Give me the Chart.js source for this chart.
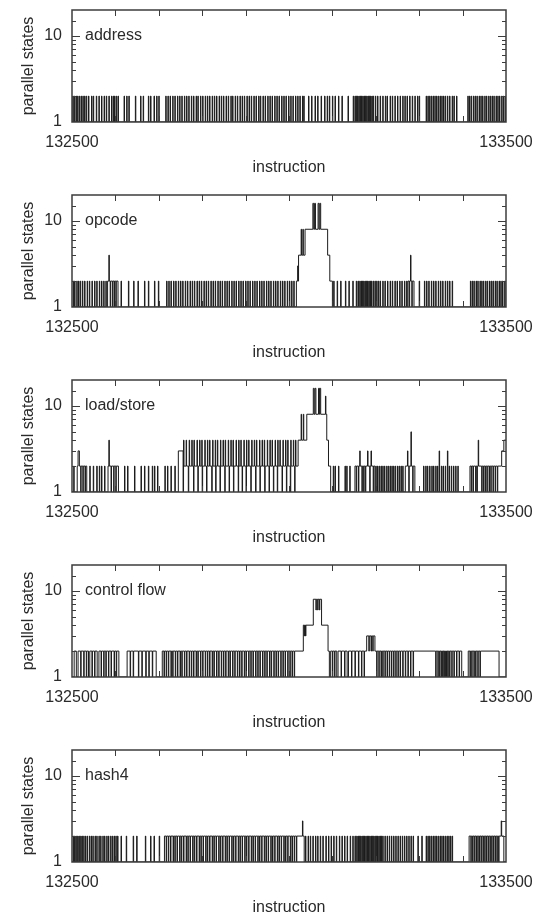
<!DOCTYPE html>
<html>
<head>
<meta charset="utf-8">
<script src="https://cdn.jsdelivr.net/npm/chart.js@4"></script>
<style>
  body{margin:0;background:#fff;}
  .panel{position:absolute;left:0;width:542px;height:185px;}
</style>
</head>
<body>
<div id="wrap"></div>
<script>
// axis setup
const xStart = 132500;
const xEnd = 133500;
const yTickLabels = [1, 10];
const panelNames = ["address", "opcode", "load/store", "control flow", "hash4"];

// each series: base levels [offset, value], 1-instruction pulses, wider peaks [offset, value, width]
const addressBase = [[0,1]];
const addressUp = [2,6,10,13,17,21,25,29,33, 38,45,49,56,62,68,74,79,85,91,95,98,102,106,
  120,126,131,146,158,164,176,181,189,195,200,
  216,221,226,232,237,243,248,253,259,264,269,275,280,286,290,296,301,307,312,317,323,328,333,339,344,349,355,360,366,370,376,381,387,392,397,403,408,413,419,424,430,434,440,445,451,456,461,467,472,477,483,488,493,499,504,509,515,520,525,531,534,
  545,552,560,566,574,582,588,593,600,606,614,622,636,648,
  652,655,658,661,664,667,670,673,676,679,682,685,688,691,694,
  699,704,710,716,722,726,733,738,744,750,756,762,767,772,778,784,790,796,800,
  816,820,824,828,832,836,840,844,848,852,856,860,865,870,876,880,886,
  912,916,920,925,929,933,938,942,946,951,955,960,964,968,972,977,981,985,990,994,998];
const addressDown = [];
const addressPeaks = [];

const opcodeBase = [[0,1],[82,2],[106,1],[517,2],[522,4],[537,8],[589,4],[594,2],[600,1],[774,2],[788,1]];
const opcodeUp = [3,6,11,15,19,24,29,35,40,46,52,57,63,68,73,78,
  113,130,142,152,167,176,190,199,
  218,223,228,234,239,245,250,255,261,266,272,277,282,288,293,298,304,309,314,320,325,330,336,341,346,352,357,362,368,373,378,384,389,394,400,405,410,416,421,426,432,437,442,448,453,458,464,469,474,480,485,490,496,501,506,511,
  603,611,619,630,638,647,
  655,659,663,666,669,672,675,678,681,684,687,690,694,698,702,706,710,
  716,721,727,733,738,744,749,755,760,766,771,800,
  812,817,822,828,833,838,844,849,854,860,865,870,876,
  918,922,926,931,935,940,944,948,953,957,962,966,970,975,979,984,988,992,997];
const opcodeDown = [88,93,97,101,777,783];
const opcodePeaks = [[85,4,1],[780,4,1],[520,3,1],[528,8,1],[532,8,1],[555,16,2],[559,16,2],[567,16,2],[571,16,2],[597,2,1]];

const loadBase = [[0,1],[12,2],[34,1],[83,2],[107,1],[245,3],[257,2],[521,4],[541,8],[587,4],[591,2],[596,1],[652,2],[698,1],[768,2],[790,1],[917,2],[990,3],[995,4]];
const loadUp = [4,41,49,57,63,68,75,
  121,128,144,159,167,176,185,190,197,214,220,228,237,
  602,606,614,629,633,640,
  700,704,708,712,716,720,725,729,733,737,741,745,750,754,758,762,
  810,815,819,824,829,833,838,842,851,855,860,869,874,879,884,889];
const loadDown = [20,25,30,90,96,101,
  256,268,280,290,300,310,322,331,341,352,362,372,383,392,401,412,423,433,444,454,464,473,484,494,503,513,
  655,660,668,672,676,686,694,776,785,
  920,924,930,933,944,948,952,956,961,965,970,975,980];
const loadHigh = [257,263,270,276,281,288,294,299,306,312,317,324,330,335,342,348,353,360,366,371,378,384,389,396,402,407,414,420,425,432,438,443,450,456,461,468,474,479,486,492,497,504,510,515];
const loadPeaks = [[14,3,3],[85,4,1],[528,8,1],[533,8,1],[556,16,2],[560,16,2],[568,16,2],[571,16,2],[584,13,1],
  [663,3,1],[681,3,1],[689,3,1],[773,3,1],[781,5,1],[846,3,1],[865,3,1],[936,4,1]];

const flowBase = [[0,1],[5,2],[10,1],[14,2],[38,1],[41,2],[58,1],[62,2],[108,1],[127,2],[194,1],[208,2],[533,4],[556,8],[575,4],[590,2],[593,1],[596,2],[679,3],[698,2],[898,1],[913,2],[984,1]];
const flowUp = [];
const flowDown = [20,27,33,46,52,67,73,78,84,90,97,102,
  134,141,153,161,170,177,185,
  212,217,222,228,232,238,243,249,253,259,264,270,275,280,286,290,296,301,307,312,317,323,327,333,338,344,349,354,360,364,370,375,381,386,391,397,401,407,412,417,423,428,433,439,444,449,455,459,465,470,475,481,486,491,497,502,507,512,
  600,605,612,620,628,636,644,652,660,667,673,
  702,707,712,716,721,726,731,736,741,746,751,756,762,768,774,780,786,
  838,843,847,851,854,857,860,863,866,870,875,880,886,892,
  917,921,926,930,935,940];
const flowPeaks = [[535,3,1],[538,3,1],[562,6,1],[566,6,1],[570,6,1],[684,2,1],[689,2,1],[693,2,1],[610,1,3],[634,1,3]];

const hashBase = [[0,1],[213,2],[535,1],[915,2],[995,1]];
const hashUp = [3,6,9,13,16,20,23,27,31,35,40,44,48,53,57,62,66,71,75,80,84,89,93,97,101,105,
  113,125,141,149,169,181,189,201,
  538,544,549,555,561,566,572,578,585,591,597,
  603,609,616,622,628,634,641,647,652,
  656,659,662,665,668,671,674,677,680,683,686,689,692,695,698,701,704,707,710,713,716,
  721,726,731,736,741,746,751,756,761,766,771,776,781,786,797,806,
  816,820,824,828,832,836,840,844,848,852,856,860,864,868,872,876];
const hashDown = [217,222,227,233,237,242,248,252,257,263,267,272,278,282,287,293,297,302,308,312,317,323,327,332,338,342,347,353,357,362,368,372,377,383,387,392,398,402,407,413,417,422,428,432,437,443,447,452,458,462,467,473,477,482,488,492,497,503,507,512,517,
  919,923,927,931,935,939,943,947,951,955,959,963,967,971,975,979,983];
const hashPeaks = [[531,3,1],[989,3,1]];

const fontFamily = '"Liberation Sans", Arial, Helvetica, sans-serif';
const textColor = '#2a2a2a';

function buildPoints(base, pulses, peaks){
    const n = xEnd - xStart;
    const v = new Array(n + 1).fill(1);
    base.forEach(function(b, i){
        const end = i + 1 < base.length ? base[i+1][0] : n + 1;
        for(let k=b[0];k<end;k++) v[k] = b[1];
    });
    pulses.forEach(function(p){
        p[0].forEach(function(o){ for(let k=0;k<p[2];k++) v[o+k] = p[1]; });
    });
    peaks.forEach(function(p){
        for(let k=0;k<p[2];k++) v[p[0]+k] = p[1];
    });
    const pts = [{x:xStart, y:v[0]}];
    for(let i=1;i<=n;i++){
        if(v[i] !== v[i-1]) pts.push({x:xStart+i, y:v[i]});
    }
    pts.push({x:xEnd, y:v[n]});
    return pts;
}

const series = [
    buildPoints(addressBase, [[addressUp,2,1],[addressDown,1,1]], addressPeaks),
    buildPoints(opcodeBase, [[opcodeUp,2,1],[opcodeDown,1,1]], opcodePeaks),
    buildPoints(loadBase, [[loadUp,2,1],[loadDown,1,1],[loadHigh,4,1]], loadPeaks),
    buildPoints(flowBase, [[flowUp,2,1],[flowDown,1,1]], flowPeaks),
    buildPoints(hashBase, [[hashUp,2,1],[hashDown,1,1]], hashPeaks)
];

// frame, inward tick marks and panel name
const framePlugin = {
    id:'frame',
    afterDatasetsDraw(chart, args, opts){
        const ctx = chart.ctx;
        const a = chart.chartArea;
        const xs = chart.scales.x, ys = chart.scales.y;
        ctx.save();
        ctx.strokeStyle = '#3c3c3c';
        ctx.lineWidth = 1;
        ctx.beginPath();
        xs.ticks.forEach(function(t){
            if(t.value <= xs.min || t.value >= xs.max) return;
            const px = Math.round(xs.getPixelForValue(t.value)) + 0.5;
            ctx.moveTo(px, a.top); ctx.lineTo(px, a.top + 6);
            ctx.moveTo(px, a.bottom); ctx.lineTo(px, a.bottom - 6);
        });
        ys.ticks.forEach(function(t){
            if(t.value <= ys.min || t.value >= ys.max) return;
            const len = t.value === 10 ? 8 : 4;
            const py = Math.round(ys.getPixelForValue(t.value)) + 0.5;
            ctx.moveTo(a.left, py); ctx.lineTo(a.left + len, py);
            ctx.moveTo(a.right, py); ctx.lineTo(a.right - len, py);
        });
        ctx.stroke();
        ctx.lineWidth = 1.5;
        ctx.strokeRect(a.left, a.top, a.right - a.left, a.bottom - a.top);
        ctx.fillStyle = textColor;
        ctx.font = '16px ' + fontFamily;
        ctx.textBaseline = 'middle';
        ctx.textAlign = 'left';
        ctx.fillText(opts.name, a.left + 13, ys.getPixelForValue(10));
        ctx.restore();
    }
};

const wrap = document.getElementById('wrap');
panelNames.forEach(function(name, i){
    const div = document.createElement('div');
    div.className = 'panel';
    div.style.top = (i * 185) + 'px';
    const cv = document.createElement('canvas');
    cv.width = 542; cv.height = 185;
    div.appendChild(cv);
    wrap.appendChild(div);

    new Chart(cv, {
        type:'line',
        data:{
            datasets:[{
                data:series[i],
                stepped:true,
                borderColor:'#1c1c1c',
                borderWidth:1,
                pointRadius:0,
                fill:false
            }]
        },
        options:{
            responsive:false,
            animation:false,
            devicePixelRatio:1,
            layout:{padding:{left:0,right:36,top:10,bottom:0}},
            plugins:{legend:{display:false},tooltip:{enabled:false},frame:{name:name}},
            scales:{
                x:{
                    type:'linear', min:xStart, max:xEnd,
                    afterFit:function(s){ s.height = 63; s.paddingLeft = 0; s.paddingRight = 0; },
                    grid:{display:false, drawTicks:false},
                    border:{display:false},
                    ticks:{
                        stepSize:100, autoSkip:false, maxRotation:0, padding:11,
                        color:textColor, font:{size:16, family:fontFamily},
                        callback:function(v){ return (v === xStart || v === xEnd) ? String(v) : ''; }
                    },
                    title:{display:true, text:'instruction', color:textColor,
                        font:{size:16, family:fontFamily}, padding:{top:0,bottom:8}}
                },
                y:{
                    type:'logarithmic', min:1, max:20,
                    afterFit:function(s){ s.width = 72; s.paddingTop = 0; s.paddingBottom = 0; },
                    grid:{display:false, drawTicks:false},
                    border:{display:false},
                    ticks:{
                        autoSkip:false, padding:10, color:textColor,
                        font:{size:16, family:fontFamily},
                        callback:function(v){ return yTickLabels.includes(v) ? String(v) : ''; }
                    },
                    title:{display:true, text:'parallel states', color:textColor,
                        font:{size:16, family:fontFamily}, padding:{top:19,bottom:0}}
                }
            }
        },
        plugins:[framePlugin]
    });
});
</script>
</body>
</html>
